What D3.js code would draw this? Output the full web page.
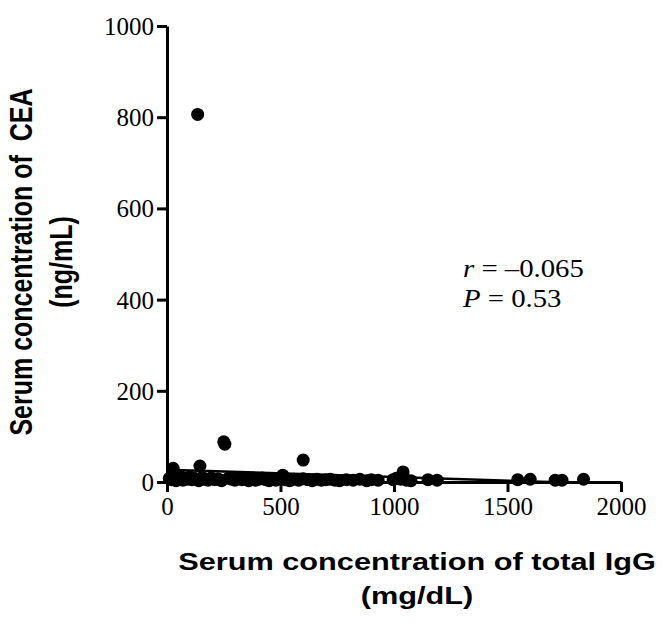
<!DOCTYPE html>
<html>
<head>
<meta charset="utf-8">
<script src="https://cdn.jsdelivr.net/npm/d3@7"></script>
<style>
  body { margin: 0; background: #fff; }
  .tick text { font-family: "Liberation Serif", "Times New Roman", serif; font-size: 25px; fill: #000; }
  .axis-title { font-family: "Liberation Sans", Arial, Helvetica, sans-serif; font-weight: bold; font-size: 24px; fill: #000; white-space: pre; }
  .y-title { font-size: 25px; }
  .stat { font-family: "Liberation Serif", "Times New Roman", serif; font-size: 25px; fill: #000; }
</style>
</head>
<body>
<div id="chart"></div>
<script>
// Serum total IgG (mg/dL) vs CEA (ng/mL)
const igg = [
  10, 20, 30, 40, 50, 60, 70, 80, 90, 100, 110, 120, 140, 155, 165, 180, 195, 210, 225,
  240, 270, 285, 300, 315, 330, 345, 360, 375, 390, 405, 420, 435, 450, 465, 480, 500,
  520, 540, 560, 580, 600, 620, 640, 660, 680, 700, 720, 740, 760, 790, 820, 850, 880,
  900, 930,
  996, 1010, 1030, 1055, 1075, 1150, 1190, 1545, 1600, 1710, 1740, 1835,
  27, 145, 250, 255, 600, 510, 1040, 135
];
const cea = [
  8, 5, 10, 3, 7, 12, 4, 9, 6, 11, 5, 8, 3, 10, 6, 4, 9, 5, 7,
  3, 8, 6, 4, 9, 5, 7, 3, 8, 4, 6, 9, 5, 3, 7, 4, 8,
  5, 3, 6, 4, 7, 5, 3, 6, 4, 5, 6, 4, 3, 5, 4, 6, 3,
  5, 4,
  5, 8, 6, 4, 3, 5, 4, 5, 6, 4, 4, 6,
  30, 35, 88, 83, 48, 15, 22, 806
];
const points = igg.map((x, i) => ({x: x, y: cea[i]}));

// fitted line (intercept, slope) as drawn in the figure
const fitLine = [27, -0.016];
const xTicks = [0, 500, 1000, 1500, 2000];
const yTicks = [0, 200, 400, 600, 800, 1000];

const margin = {top: 26, right: 45, bottom: 151, left: 167};
const width = 666, height = 633;
const innerW = 621 - margin.left, innerH = 482 - margin.top;
// the source figure is stretched sideways; text is scaled to match
const stretch = 1.28;

const svg = d3.select('#chart').append('svg')
    .attr('width', width)
    .attr('height', height);

const chart = svg.append('g')
    .attr('transform', `translate(${margin.left},${margin.top})`);

const xScale = d3.scaleLinear().domain([0, 2000]).range([0, innerW]);
const yScale = d3.scaleLinear().domain([0, 1000]).range([innerH, 0]);

const xAxis = chart.append('g')
    .attr('transform', `translate(0,${innerH})`)
    .call(d3.axisBottom(xScale).tickValues(xTicks).tickFormat(d3.format('d'))
        .tickSize(10).tickSizeOuter(0).tickPadding(5));
const yAxis = chart.append('g')
    .call(d3.axisLeft(yScale).tickValues(yTicks).tickFormat(d3.format('d'))
        .tickSize(10).tickSizeOuter(0).tickPadding(3));

[xAxis, yAxis].forEach(a => {
    a.select('.domain').attr('stroke', '#000').attr('stroke-width', 3);
    a.selectAll('.tick line').attr('stroke', '#000').attr('stroke-width', 3);
});
yAxis.selectAll('.tick text').attr('dy', '0.34em');

// regression line, stops where it meets the x axis
const xEnd = Math.min(2000, -fitLine[0] / fitLine[1]);
chart.append('line')
    .attr('x1', xScale(0)).attr('y1', yScale(fitLine[0]))
    .attr('x2', xScale(xEnd)).attr('y2', yScale(fitLine[0] + fitLine[1] * xEnd))
    .attr('stroke', '#000')
    .attr('stroke-width', 2.5);

chart.selectAll('.dot')
    .data(points)
  .join('circle')
    .attr('class', 'dot')
    .attr('cx', d => xScale(d.x))
    .attr('cy', d => yScale(d.y))
    .attr('r', 6.5)
    .attr('fill', '#000');

// statistics annotation
const stat = svg.append('g').attr('transform', 'translate(463,277) scale(1.15,1)');
stat.append('text').attr('class', 'stat').attr('y', 0)
    .html('<tspan font-style="italic">r</tspan> = \u20130.065');
stat.append('text').attr('class', 'stat').attr('y', 30)
    .html('<tspan font-style="italic">P</tspan> = 0.53');

// axis titles
const xTitle = svg.append('g').attr('transform', `translate(417,0) scale(${stretch},1)`);
xTitle.append('text').attr('class', 'axis-title')
    .attr('text-anchor', 'middle')
    .attr('x', 0).attr('y', 570)
    .text('Serum concentration of total IgG');
xTitle.append('text').attr('class', 'axis-title')
    .attr('text-anchor', 'middle')
    .attr('x', 0).attr('y', 604)
    .text('(mg/dL)');

const yTitle = svg.append('g').attr('transform', `translate(0,262) scale(${stretch},1) rotate(-90)`);
yTitle.append('text').attr('class', 'axis-title y-title')
    .attr('text-anchor', 'middle')
    .attr('x', 0).attr('y', 25)
    .text('Serum concentration of  CEA');
yTitle.append('text').attr('class', 'axis-title y-title')
    .attr('text-anchor', 'middle')
    .attr('x', 0).attr('y', 56)
    .text('(ng/mL)');
</script>
</body>
</html>
